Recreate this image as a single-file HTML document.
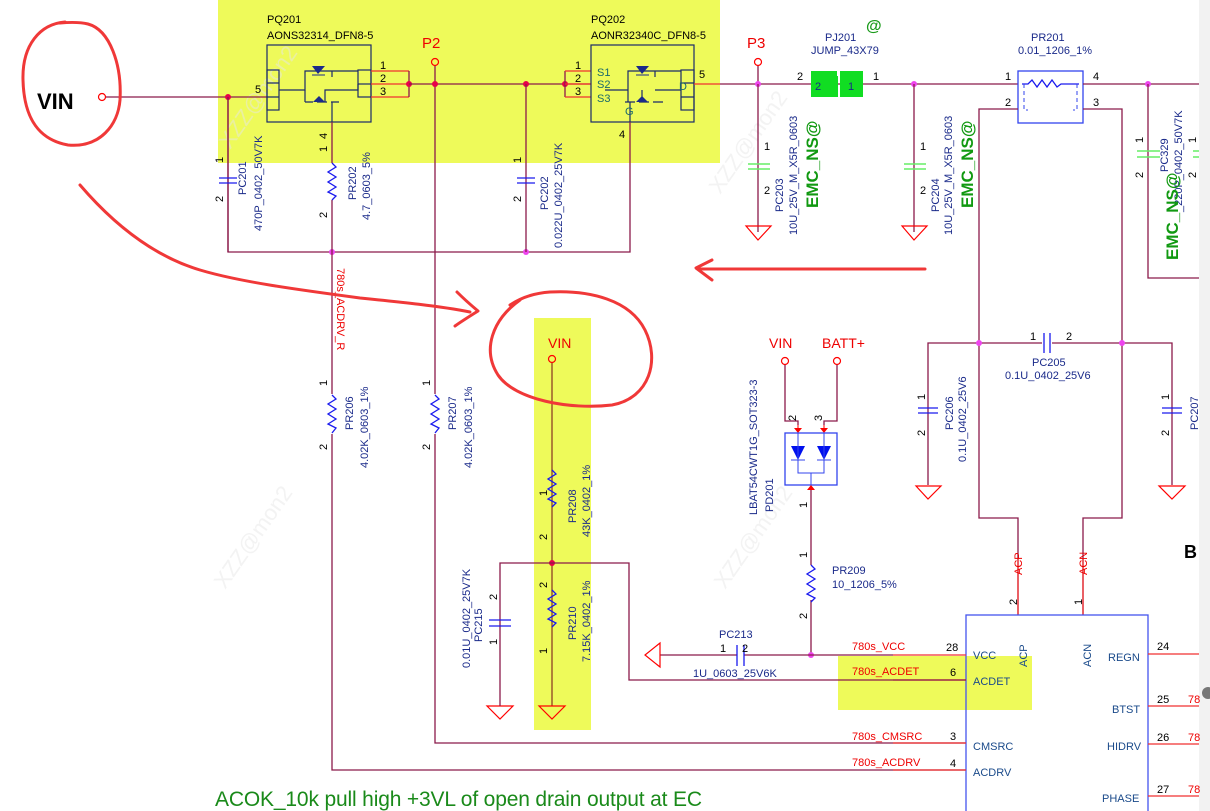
<!DOCTYPE html>
<html><head><meta charset="utf-8"><style>
html,body{margin:0;padding:0;background:#fff}
svg{display:block}
text{font-family:"Liberation Sans",sans-serif}
.w{stroke:#8b1a4a;stroke-width:1.3;fill:none}
.r{stroke:#f03030;stroke-width:1.3;fill:none}
.b{stroke:#1a1aee;stroke-width:1.3;fill:none}
.k{font-size:11px;fill:#000}
.n{font-size:11px;fill:#1a2a8a}
.red{fill:#e00}
.g{stroke:#f00;stroke-width:1.2;fill:none}
.hd{stroke:#f03838;stroke-width:3;fill:none;stroke-linecap:round;stroke-linejoin:round}
</style></head><body>
<svg width="1210" height="811" viewBox="0 0 1210 811" xmlns="http://www.w3.org/2000/svg">
<rect x="1199" y="0" width="11" height="811" fill="#f2f2f2"/>
<rect x="218" y="0" width="502" height="163" fill="#eefa5a"/>
<rect x="534" y="318" width="57" height="412" fill="#eefa5a"/>
<rect x="838" y="656" width="194" height="54" fill="#eefa5a"/>

<g fill="#e6e6e6" font-size="22" opacity="0.5">
<text transform="translate(230,150) rotate(-55)">XZZ@mon2</text>
<text transform="translate(720,195) rotate(-55)">XZZ@mon2</text>
<text transform="translate(225,590) rotate(-55)">XZZ@mon2</text>
<text transform="translate(725,590) rotate(-55)">XZZ@mon2</text>
</g>

<text x="37" y="109" font-size="22" font-weight="bold">VIN</text>
<circle cx="102" cy="97" r="3.5" fill="none" stroke="#f00" stroke-width="1.2"/>
<path class="w" d="M106 97H267"/>
<circle cx="228" cy="97" r="3" fill="#e8004a"/>
<text x="255" y="93" class="k">5</text>

<text x="267" y="23" class="k">PQ201</text>
<text x="267" y="39" class="k">AONS32314_DFN8-5</text>
<g stroke="#1a2a6a" stroke-width="1.2" fill="none">
<rect x="267" y="45" width="104" height="77"/>
<rect x="267" y="70" width="12" height="40"/><path d="M267 83H279M267 97H279"/>
<rect x="358" y="70" width="13" height="27"/><path d="M358 84H371"/>
<path d="M279 90H305V80M305 80V71H332V77M332 71H358"/>
<path d="M305 102H313M317 102H327M331 102H339M325 102V90H358V84M332 102V122M305 102V90"/>
</g>
<path d="M312 66H325L318 74Z" fill="#1a2a8a"/><path d="M312 75H325" stroke="#1a2a8a"/>
<path d="M313 102H325L319 96Z" fill="#1a2a8a"/>
<path class="r" d="M371 71H409M371 84H409M371 97H409"/>
<path class="w" d="M409 71V97"/>
<text x="380" y="69" class="k">1</text><text x="380" y="82" class="k">2</text><text x="380" y="95" class="k">3</text>
<circle cx="409" cy="84" r="3" fill="#e8004a"/>
<path class="w" d="M409 84H591"/>
<text x="422" y="48" font-size="15" class="red">P2</text>
<circle cx="435" cy="62" r="3.5" fill="none" stroke="#f00" stroke-width="1.2"/>
<path class="w" d="M435 66V743H966"/>
<circle cx="435" cy="84" r="3" fill="#e8004a"/>
<circle cx="526" cy="84" r="3" fill="#e8004a"/>
<circle cx="565" cy="84" r="3" fill="#e8004a"/>
<path class="w" d="M565 71V97"/>
<path class="r" d="M565 71H591M565 84H591M565 97H591"/>
<text x="575" y="69" class="k">1</text><text x="575" y="82" class="k">2</text><text x="575" y="95" class="k">3</text>

<text x="591" y="23" class="k">PQ202</text>
<text x="591" y="39" class="k">AONR32340C_DFN8-5</text>
<g stroke="#1a2a6a" stroke-width="1.2" fill="none">
<rect x="591" y="45" width="103" height="77"/>
<rect x="681" y="70" width="13" height="40"/><path d="M681 83H694M681 97H694"/>
<path d="M605 90H628V102M628 90V71H655V77M655 71H681M655 90H681"/>
<path d="M625 102H635M639 102H649M653 102H663M642 102V90M630 102V122"/>
</g>
<path d="M636 66H649L642 74Z" fill="#1a2a8a"/><path d="M636 75H649" stroke="#1a2a8a"/>
<path d="M636 102H648L642 96Z" fill="#1a2a8a"/>
<g font-size="11" fill="#1a6a6a"><text x="597" y="76">S1</text><text x="597" y="88">S2</text><text x="597" y="102">S3</text><text x="679" y="90">D</text><text x="625" y="115">G</text></g>
<text x="699" y="78" class="k">5</text>
<path class="r" d="M694 84H720"/>
<path class="w" d="M720 84H1018"/>
<text x="619" y="138" class="k">4</text>
<path class="w" d="M630 122V252H228V97"/>
<circle cx="332" cy="252" r="3" fill="#e4e"/><circle cx="526" cy="252" r="3" fill="#e4e"/>

<path class="w" d="M228 97V252"/>
<path class="b" d="M219 178H237M219 183H237"/>
<text transform="translate(223,163) rotate(-90)" class="k">1</text>
<text transform="translate(223,202) rotate(-90)" class="k">2</text>
<text transform="translate(246,195) rotate(-90)" class="n">PC201</text>
<text transform="translate(262,231) rotate(-90)" class="n">470P_0402_50V7K</text>
<path class="w" d="M332 122V163M332 200V252"/>
<path class="b" d="M332 163L336 167L328 172L336 177L328 182L336 187L328 192L336 196L332 200"/>
<text transform="translate(327,139) rotate(-90)" class="k">4</text>
<text transform="translate(327,152) rotate(-90)" class="k">1</text>
<text transform="translate(327,218) rotate(-90)" class="k">2</text>
<text transform="translate(356,200) rotate(-90)" class="n">PR202</text>
<text transform="translate(370,220) rotate(-90)" class="n">4.7_0603_5%</text>
<path class="w" d="M526 84V252"/>
<path class="b" d="M517 178H535M517 183H535"/>
<text transform="translate(521,163) rotate(-90)" class="k">1</text>
<text transform="translate(521,202) rotate(-90)" class="k">2</text>
<text transform="translate(548,210) rotate(-90)" class="n">PC202</text>
<text transform="translate(562,248) rotate(-90)" class="n">0.022U_0402_25V7K</text>

<path class="w" d="M332 252V770H966"/>
<text transform="translate(337,268) rotate(90)" font-size="11" class="red">780s_ACDRV_R</text>
<rect x="330" y="394" width="5" height="40" fill="#fff"/><rect x="433" y="394" width="5" height="40" fill="#fff"/>
<path class="b" d="M332 395L336 399L328 404L336 409L328 414L336 419L328 424L336 428L332 433"/>
<path class="b" d="M435 395L439 399L431 404L439 409L431 414L439 419L431 424L439 428L435 433"/>
<text transform="translate(327,386) rotate(-90)" class="k">1</text>
<text transform="translate(327,450) rotate(-90)" class="k">2</text>
<text transform="translate(353,430) rotate(-90)" class="n">PR206</text>
<text transform="translate(368,468) rotate(-90)" class="n">4.02K_0603_1%</text>
<text transform="translate(430,386) rotate(-90)" class="k">1</text>
<text transform="translate(430,450) rotate(-90)" class="k">2</text>
<text transform="translate(456,430) rotate(-90)" class="n">PR207</text>
<text transform="translate(472,468) rotate(-90)" class="n">4.02K_0603_1%</text>

<text x="747" y="48" font-size="15" class="red">P3</text>
<circle cx="758" cy="62" r="3.5" fill="none" stroke="#f00" stroke-width="1.2"/>
<path class="w" d="M758 66V84"/>
<circle cx="758" cy="84" r="3" fill="#e4e"/>
<text x="825" y="41" class="n">PJ201</text>
<text x="811" y="54" class="n">JUMP_43X79</text>
<text x="866" y="31" font-size="16" font-weight="bold" fill="#1a9a1a">@</text>
<path d="M811 71H837V76H838V97H811Z" fill="#11dd22"/>
<path d="M840 71H863V97H840Z" fill="#11dd22"/>
<text x="815" y="90" class="n">2</text><text x="848" y="90" class="n">1</text>
<text x="797" y="80" class="k">2</text><text x="873" y="80" class="k">1</text>
<circle cx="914" cy="84" r="3" fill="#e4e"/>
<path class="w" d="M758 84V232M914 84V232"/>
<path d="M748 164H770M748 169H770M904 164H926M904 169H926" stroke="#66ee66" stroke-width="1.6"/>
<path class="g" d="M746 226H771L758 240Z M902 226H927L914 240Z"/>
<text x="764" y="150" class="k">1</text><text x="764" y="194" class="k">2</text>
<text x="920" y="150" class="k">1</text><text x="920" y="194" class="k">2</text>
<text transform="translate(783,212) rotate(-90)" class="n">PC203</text>
<text transform="translate(797,235) rotate(-90)" class="n">10U_25V_M_X5R_0603</text>
<text transform="translate(818,208) rotate(-90)" font-size="17" font-weight="bold" fill="#119911">EMC_NS@</text>
<text transform="translate(939,212) rotate(-90)" class="n">PC204</text>
<text transform="translate(952,235) rotate(-90)" class="n">10U_25V_M_X5R_0603</text>
<text transform="translate(973,208) rotate(-90)" font-size="17" font-weight="bold" fill="#119911">EMC_NS@</text>

<text x="1031" y="41" class="n">PR201</text>
<text x="1018" y="54" class="n">0.01_1206_1%</text>
<rect x="1018" y="71" width="65" height="52" fill="none" stroke="#3344ee" stroke-width="1.3"/>
<path class="b" d="M1022 84H1028L1032 80L1037 87L1042 80L1047 87L1052 80L1057 87L1061 84H1079"/>
<path d="M1024 84V110H1028M1077 84V110H1073" stroke="#3344ee" stroke-dasharray="4 3" fill="none"/>
<text x="1005" y="80" class="k">1</text><text x="1093" y="80" class="k">4</text>
<text x="1005" y="106" class="k">2</text><text x="1093" y="106" class="k">3</text>
<path class="w" d="M1083 84H1199"/>
<circle cx="1148" cy="84" r="3" fill="#e4e"/>
<path class="w" d="M1018 109H979V518H1018V615M1083 109H1122V518H1083V615"/>
<path class="r" d="M1018 558V615M1083 558V615"/>
<path class="w" d="M1148 84V278H1199"/>
<path d="M1137 151H1160M1137 157H1160M1193 151H1199M1193 157H1199" stroke="#66ee66" stroke-width="1.6"/>
<text transform="translate(1143,143) rotate(-90)" class="k">1</text>
<text transform="translate(1143,178) rotate(-90)" class="k">2</text>
<text transform="translate(1168,172) rotate(-90)" class="n">PC329</text>
<text transform="translate(1182,212) rotate(-90)" class="n">_220P_0402_50V7K</text>
<text transform="translate(1178,260) rotate(-90)" font-size="17" font-weight="bold" fill="#119911">EMC_NS@</text>
<text transform="translate(1196,143) rotate(-90)" class="k">1</text>
<text transform="translate(1196,178) rotate(-90)" class="k">2</text>

<path class="w" d="M928 485V343H1042M1052 343H1172V485"/>
<circle cx="979" cy="343" r="3" fill="#e4e"/><circle cx="1122" cy="343" r="3" fill="#e4e"/>
<path class="b" d="M1044 333V353M1050 333V353"/>
<text x="1030" y="340" class="k">1</text><text x="1066" y="340" class="k">2</text>
<text x="1032" y="366" class="n">PC205</text><text x="1005" y="379" class="n">0.1U_0402_25V6</text>
<path class="b" d="M918 408H938M918 413H938M1162 408H1182M1162 413H1182"/>
<path class="g" d="M916 486H941L928 499Z M1159 486H1185L1172 499Z"/>
<text transform="translate(925,400) rotate(-90)" class="k">1</text>
<text transform="translate(925,436) rotate(-90)" class="k">2</text>
<text transform="translate(953,430) rotate(-90)" class="n">PC206</text>
<text transform="translate(966,462) rotate(-90)" class="n">0.1U_0402_25V6</text>
<text transform="translate(1169,400) rotate(-90)" class="k">1</text>
<text transform="translate(1169,436) rotate(-90)" class="k">2</text>
<text transform="translate(1198,430) rotate(-90)" class="n">PC207</text>
<text transform="translate(1017,605) rotate(-90)" class="k">2</text>
<text transform="translate(1082,605) rotate(-90)" class="k">1</text>
<text transform="translate(1022,575) rotate(-90)" font-size="11" class="red">ACP</text>
<text transform="translate(1087,575) rotate(-90)" font-size="11" class="red">ACN</text>
<text x="1184" y="558" font-size="18" font-weight="bold">B</text>

<rect x="966" y="615" width="182" height="200" fill="none" stroke="#4455ee" stroke-width="1.3"/>
<g font-size="11" fill="#1a4a8a">
<text x="973" y="659">VCC</text><text x="973" y="685">ACDET</text><text x="973" y="750">CMSRC</text><text x="973" y="776">ACDRV</text>
<text x="1108" y="661">REGN</text><text x="1112" y="713">BTST</text><text x="1107" y="750">HIDRV</text><text x="1102" y="802">PHASE</text>
<text transform="translate(1027,667) rotate(-90)">ACP</text><text transform="translate(1091,667) rotate(-90)">ACN</text>
</g>
<path class="r" d="M1148 654H1199M1148 706H1199M1148 744H1199M1148 796H1199"/>
<text x="1157" y="650" class="k">24</text><text x="1157" y="703" class="k">25</text><text x="1157" y="741" class="k">26</text><text x="1157" y="793" class="k">27</text>
<g font-size="11" class="red"><text x="1188" y="703">78</text><text x="1188" y="741">78</text><text x="1188" y="793">78</text></g>
<circle cx="1208" cy="693" r="6" fill="#777"/>
<path class="r" d="M893 655H966M893 680H966M893 743H966M893 770H966"/>
<text x="946" y="651" class="k">28</text><text x="950" y="676" class="k">6</text><text x="950" y="740" class="k">3</text><text x="950" y="767" class="k">4</text>
<g font-size="11" class="red"><text x="852" y="650">780s_VCC</text><text x="852" y="675">780s_ACDET</text><text x="852" y="740">780s_CMSRC</text><text x="852" y="766">780s_ACDRV</text></g>

<text x="548" y="348" font-size="14" class="red">VIN</text>
<circle cx="552" cy="359" r="3.5" fill="none" stroke="#f00" stroke-width="1.2"/>
<path d="M552 363V706" stroke="#9a5a2a" stroke-width="1.5"/>
<path class="b" d="M552 470L556 474L548 479L556 484L548 489L556 494L548 499L556 503L552 507"/>
<path class="b" d="M552 590L556 594L548 599L556 604L548 609L556 614L548 619L556 623L552 627"/>
<text transform="translate(547,496) rotate(-90)" class="k">1</text>
<text transform="translate(547,540) rotate(-90)" class="k">2</text>
<text transform="translate(547,588) rotate(-90)" class="k">2</text>
<text transform="translate(547,654) rotate(-90)" class="k">1</text>
<text transform="translate(576,523) rotate(-90)" class="n">PR208</text>
<text transform="translate(590,537) rotate(-90)" class="n">43K_0402_1%</text>
<text transform="translate(576,640) rotate(-90)" class="n">PR210</text>
<text transform="translate(590,662) rotate(-90)" class="n">7.15K_0402_1%</text>
<circle cx="552" cy="563" r="3" fill="#e8004a"/>
<path class="g" d="M539 706H565L552 719Z M487 706H513L500 719Z"/>
<path class="w" d="M500 706V563H629V680H966"/>
<path class="b" d="M489 620H511M489 626H511"/>
<text transform="translate(497,600) rotate(-90)" class="k">2</text>
<text transform="translate(497,645) rotate(-90)" class="k">1</text>
<text transform="translate(482,642) rotate(-90)" class="n">PC215</text>
<text transform="translate(470,668) rotate(-90)" class="n">0.01U_0402_25V7K</text>

<text x="769" y="348" font-size="14" class="red">VIN</text>
<text x="822" y="348" font-size="14" class="red">BATT+</text>
<circle cx="785" cy="361" r="3.5" fill="none" stroke="#f00" stroke-width="1.2"/>
<circle cx="837" cy="361" r="3.5" fill="none" stroke="#f00" stroke-width="1.2"/>
<path class="w" d="M785 365V421H798V425M837 365V421H824V425"/>
<path d="M798 425V433M824 425V433" stroke="#f00"/>
<path d="M794 428H802L798 433ZM820 428H828L824 433Z" fill="#f00"/>
<text transform="translate(796,421) rotate(-90)" class="k">2</text>
<text transform="translate(822,421) rotate(-90)" class="k">3</text>
<rect x="785" y="433" width="52" height="52" fill="none" stroke="#3344ee" stroke-width="1.3"/>
<path d="M791 446H805L798 460ZM817 446H831L824 460Z" fill="#0010ee"/>
<path d="M791 460H805M817 460H831M798 433V473H824V433M811 473V485" stroke="#3344ee" fill="none"/>
<path d="M807 490H815L811 485Z" fill="#f00"/>
<text transform="translate(773,512) rotate(-90)" class="n">PD201</text>
<text transform="translate(757,515) rotate(-90)" class="n">LBAT54CWT1G_SOT323-3</text>
<path class="w" d="M811 490V565M811 600V655"/>
<path class="b" d="M811 565L815 569L807 574L815 579L807 584L815 589L807 594L815 598L811 602"/>
<text transform="translate(807,508) rotate(-90)" class="k">1</text>
<text transform="translate(807,558) rotate(-90)" class="k">1</text>
<text transform="translate(807,619) rotate(-90)" class="k">2</text>
<text x="832" y="574" class="n">PR209</text><text x="832" y="588" class="n">10_1206_5%</text>
<circle cx="811" cy="655" r="3" fill="#e4e"/>
<path class="w" d="M660 655H737M744 655H893"/>
<path class="g" d="M660 643V667L645 655Z"/>
<path class="b" d="M737 645V666M744 645V666"/>
<text x="719" y="638" class="n">PC213</text>
<text x="720" y="652" class="k">1</text><text x="742" y="652" class="k">2</text>
<text x="693" y="677" class="n">1U_0603_25V6K</text>

<path class="hd" d="M65 22C40 24 22 45 23 80C24 120 40 140 68 145C100 148 118 125 120 100C122 65 110 30 88 24C80 22 72 22 60 23"/>
<path class="hd" d="M80 185C110 220 150 255 200 270C240 282 300 290 360 298C400 302 440 306 470 312"/>
<path class="hd" d="M457 292C465 300 472 306 478 311C470 316 462 321 455 326"/>
<path class="hd" d="M520 300C492 320 482 350 498 375C515 400 570 410 612 405C650 398 660 360 645 330C630 300 590 290 550 292C535 293 522 297 510 305"/>
<path class="hd" d="M925 269H698M712 260L696 268L712 280"/>

<text x="215" y="806" font-size="21" fill="#1a8a1a" textLength="487" font-family="'DejaVu Sans','Liberation Sans',sans-serif">ACOK_10k pull high +3VL of open drain output at EC</text>
</svg>
</body></html>
